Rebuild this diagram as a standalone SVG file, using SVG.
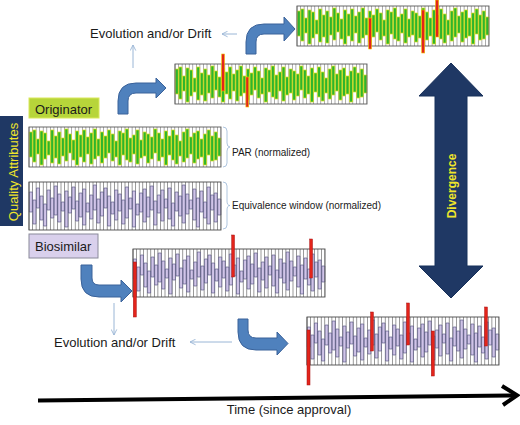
<svg xmlns="http://www.w3.org/2000/svg" xmlns:xlink="http://www.w3.org/1999/xlink" width="520" height="425" viewBox="0 0 520 425">
<style>
text{font-family:"Liberation Sans",Arial,sans-serif;fill:#1a1a1a}
.lbl13{font-size:13px}
.lbl10{font-size:10px}
.gbar{fill:#2db52d;stroke:#e2e21a;stroke-width:0.7}
.pbar{fill:#d0c4e8;stroke:#4c4c78;stroke-width:0.6}
.redG{fill:#e3241b;stroke:#f2c200;stroke-width:0.6}
.redP{fill:#e3241b;stroke:#a81010;stroke-width:0.5}
.bent{fill:#4f81bd;stroke:#3a629a;stroke-width:1}
.thin{fill:none;stroke:#9ab6d6;stroke-width:1}
.brace{fill:none;stroke:#9ab6d6;stroke-width:0.8}
</style>
<defs>
<marker id="thinHead" viewBox="0 0 10 10" refX="9" refY="5" markerWidth="7" markerHeight="7" orient="auto" markerUnits="userSpaceOnUse">
<path d="M1,1 L9,5 L1,9" fill="none" stroke="#9ab6d6" stroke-width="1.3"/>
</marker>
<g id="greenStrip">
<rect x="0" y="0" width="192" height="40" fill="#fff"/>
<line x1="-0.35" y1="20" x2="192" y2="20" stroke="#8a8a8a" stroke-width="40" stroke-dasharray="0.7 2.8556"/>
<path class="gbar" transform="translate(-0.1,0)" d="M0.45,5h3V30h-3zM4.01,3h3V35h-3zM7.56,12h3V27h-3zM11.12,4h3V38h-3zM14.67,6h3V32h-3zM18.23,14h3V28h-3zM21.78,3h3V36h-3zM25.34,9h3V31h-3zM28.89,5h3V37h-3zM32.45,11h3V29h-3zM36.01,2h3V34h-3zM39.56,7h3V26h-3zM43.12,13h3V33h-3zM46.67,4h3V38h-3zM50.23,8h3V30h-3zM53.78,3h3V35h-3zM57.34,10h3V27h-3zM60.9,6h3V37h-3zM64.45,2h3V32h-3zM68.01,12h3V29h-3zM71.56,5h3V36h-3zM75.12,9h3V31h-3zM78.67,3h3V26h-3zM82.23,7h3V34h-3zM85.78,14h3V30h-3zM89.34,4h3V38h-3zM92.9,6h3V28h-3zM96.45,2h3V33h-3zM100.01,11h3V35h-3zM103.56,8h3V27h-3zM107.12,3h3V37h-3zM110.67,13h3V31h-3zM114.23,5h3V29h-3zM117.78,7h3V36h-3zM121.34,10h3V32h-3zM124.9,2h3V26h-3zM128.45,6h3V34h-3zM132.01,12h3V30h-3zM135.56,4h3V38h-3zM139.12,9h3V28h-3zM142.67,3h3V33h-3zM146.23,8h3V37h-3zM149.78,14h3V29h-3zM153.34,5h3V35h-3zM156.9,2h3V31h-3zM160.45,10h3V27h-3zM164.01,6h3V36h-3zM167.56,4h3V32h-3zM171.12,12h3V30h-3zM174.67,7h3V38h-3zM178.23,3h3V28h-3zM181.78,9h3V34h-3zM185.34,5h3V33h-3zM188.9,11h3V29h-3z"/>
<rect x="0" y="0" width="192" height="40" fill="none" stroke="#5a5a5a" stroke-width="0.9"/>
</g>
<g id="purpleStrip">
<rect x="0" y="0" width="192" height="48" fill="#fff"/>
<line x1="-0.35" y1="24" x2="192" y2="24" stroke="#6e6e6e" stroke-width="48" stroke-dasharray="0.7 2.8556"/>
<path class="pbar" transform="translate(-0.1,0)" d="M0.45,10h3V30h-3zM4.01,18h3V42h-3zM7.56,6h3V26h-3zM11.12,14h3V38h-3zM14.67,22h3V44h-3zM18.23,8h3V28h-3zM21.78,16h3V36h-3zM25.34,4h3V33h-3zM28.89,12h3V40h-3zM32.45,20h3V29h-3zM36.01,9h3V45h-3zM39.56,15h3V31h-3zM43.12,5h3V27h-3zM46.67,19h3V39h-3zM50.23,11h3V35h-3zM53.78,7h3V43h-3zM57.34,21h3V30h-3zM60.9,13h3V37h-3zM64.45,3h3V28h-3zM68.01,17h3V41h-3zM71.56,10h3V34h-3zM75.12,6h3V26h-3zM78.67,14h3V44h-3zM82.23,20h3V32h-3zM85.78,8h3V38h-3zM89.34,12h3V29h-3zM92.9,18h3V42h-3zM96.45,5h3V36h-3zM100.01,16h3V27h-3zM103.56,9h3V45h-3zM107.12,22h3V33h-3zM110.67,11h3V30h-3zM114.23,7h3V40h-3zM117.78,15h3V35h-3zM121.34,4h3V28h-3zM124.9,19h3V43h-3zM128.45,13h3V31h-3zM132.01,8h3V39h-3zM135.56,17h3V26h-3zM139.12,6h3V37h-3zM142.67,21h3V44h-3zM146.23,10h3V29h-3zM149.78,14h3V34h-3zM153.34,3h3V41h-3zM156.9,12h3V32h-3zM160.45,18h3V27h-3zM164.01,7h3V38h-3zM167.56,16h3V45h-3zM171.12,9h3V30h-3zM174.67,20h3V36h-3zM178.23,5h3V42h-3zM181.78,13h3V28h-3zM185.34,11h3V40h-3zM188.9,17h3V33h-3z"/>
<rect x="0" y="0" width="192" height="48" fill="none" stroke="#4a4a4a" stroke-width="0.9"/>
</g>
</defs>

<rect width="520" height="425" fill="#fff"/>

<g id="connectors">
<path id="arrow-originator" class="bent" d="M118,114 V101 Q118,83 136,83 H156 V78 L166,88 L156,98 V93 H136 Q128,93 128,101 V114 Z"/>
<path id="arrow-top" class="bent" d="M246,54 V42 Q246,24 264,24 H284 V17 L295,29 L284,41 V34 H264 Q256,34 256,42 V54 Z"/>
<path id="arrow-biosimilar" class="bent" d="M81,265 V279 Q81,297 99,297 H121 V302 L132,291 L121,280 V285 H99 Q92,285 92,278 V265 Z"/>
<path id="arrow-bottom" class="bent" d="M238,319 V332 Q238,350 256,350 H277 V355 L288,343.5 L277,332 V338 H256 Q248,338 248,330 V319 Z"/>
<line class="thin" x1="133" y1="68" x2="133" y2="45" marker-end="url(#thinHead)"/>
<line class="thin" x1="237" y1="34" x2="222" y2="34" marker-end="url(#thinHead)"/>
<line class="thin" x1="114" y1="303" x2="114" y2="335" marker-end="url(#thinHead)"/>
<line class="thin" x1="232" y1="342" x2="190" y2="342" marker-end="url(#thinHead)"/>
<path class="brace" d="M223,127 Q227,127 227,131 V143 Q227,147 230,147 Q227,147 227,151 V163 Q227,167 223,167"/>
<path class="brace" d="M223,182 Q227,182 227,186 V201 Q227,205.5 230,205.5 Q227,205.5 227,210 V225 Q227,229 223,229"/>
<g id="divergence">
<path d="M451,63 L483,96 L467,96 L467,266 L483,266 L451,298 L419,266 L435,266 L435,96 L419,96 Z" fill="#1f3864" stroke="#17305a" stroke-width="1"/>
<text transform="translate(455.5,186) rotate(-90)" text-anchor="middle" style="font-size:12px;font-weight:bold;fill:#f0e62a">Divergence</text>
</g>
<g id="time-axis">
<line x1="38" y1="400.5" x2="515" y2="395.5" stroke="#000" stroke-width="4"/>
<polyline points="502,386 517,395.3 503,405" fill="none" stroke="#000" stroke-width="4" stroke-linejoin="miter"/>
</g>
</g>

<g id="quality-attributes">
<rect x="0" y="116" width="23" height="110" fill="#1f3864"/>
<text transform="translate(17.5,172) rotate(-90)" text-anchor="middle" class="lbl13" style="fill:#f0e62a">Quality Attributes</text>
</g>

<g id="originator">
<rect x="29" y="98" width="70" height="20" fill="#b7d53a" stroke="#d9e85a" stroke-width="1"/>
<text x="35" y="113.5" class="lbl13">Originator</text>
</g>

<g id="biosimilar">
<rect x="29" y="234" width="69" height="24" fill="#d9d0ec" stroke="#8a8a9a" stroke-width="1"/>
<text x="35" y="251" class="lbl13">Biosimilar</text>
</g>

<g id="strip-par">
<use xlink:href="#greenStrip" href="#greenStrip" x="29" y="127"/>
<text x="232" y="156" class="lbl10">PAR (normalized)</text>
</g>

<g id="strip-equivalence">
<use xlink:href="#purpleStrip" href="#purpleStrip" x="29" y="182"/>
<text x="232" y="209" class="lbl10">Equivalence window (normalized)</text>
</g>

<g id="strip-originator-evolved">
<use xlink:href="#greenStrip" href="#greenStrip" x="175" y="64"/>
<rect class="redG" x="221.7" y="54" width="2.8" height="37"/>
<rect class="redG" x="245.9" y="77" width="2.8" height="30"/>
</g>

<g id="strip-originator-drift">
<use xlink:href="#greenStrip" href="#greenStrip" x="297" y="6"/>
<rect class="redG" x="368.7" y="18" width="2.8" height="31"/>
<rect class="redG" x="421.7" y="10" width="3" height="43"/>
<rect class="redG" x="435.5" y="0" width="3.2" height="37"/>
</g>

<g id="strip-biosimilar-evolved">
<use xlink:href="#purpleStrip" href="#purpleStrip" x="133" y="249"/>
<rect class="redP" x="133.3" y="262" width="3" height="55"/>
<rect class="redP" x="231.7" y="235" width="2.8" height="42"/>
<rect class="redP" x="309.7" y="239" width="2.8" height="39"/>
</g>

<g id="strip-biosimilar-drift">
<use xlink:href="#purpleStrip" href="#purpleStrip" x="307" y="317"/>
<rect class="redP" x="307" y="330" width="3" height="55"/>
<rect class="redP" x="370.6" y="312" width="2.8" height="39"/>
<rect class="redP" x="406.6" y="303" width="2.8" height="42"/>
<rect class="redP" x="431.3" y="331" width="3" height="45"/>
<rect class="redP" x="484.6" y="307" width="2.8" height="39"/>
</g>

<g id="labels">
<text x="90" y="38" class="lbl13">Evolution and/or Drift</text>
<text x="54" y="347" class="lbl13">Evolution and/or Drift</text>
<text x="289" y="414" text-anchor="middle" class="lbl13">Time (since approval)</text>
</g>
</svg>
